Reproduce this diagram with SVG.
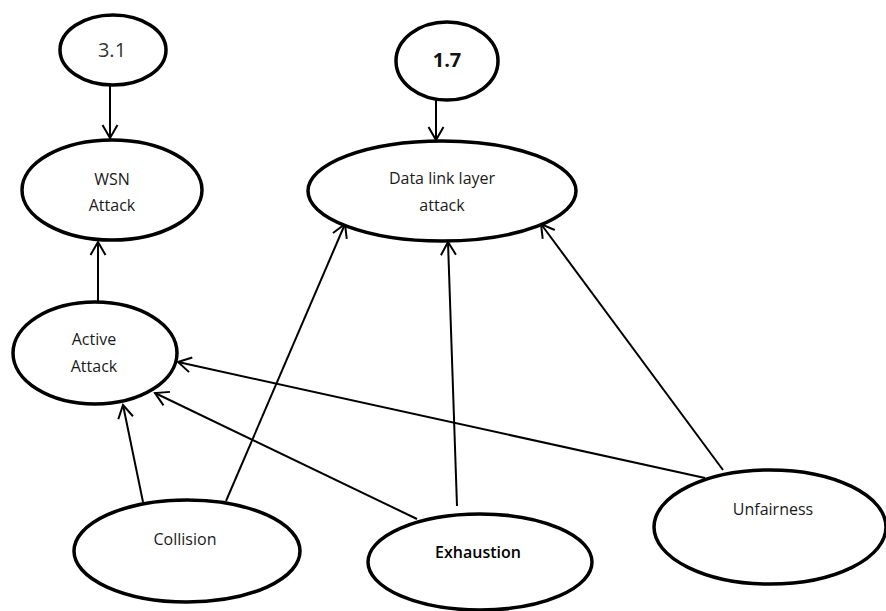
<svg xmlns="http://www.w3.org/2000/svg" width="886" height="611" viewBox="0 0 886 611">
<style>
.node ellipse{fill:#fff;stroke:#000;stroke-width:3.5}
.lbl{font-family:"Open Sans","Noto Sans",sans-serif;font-size:16px;fill:#1a1a1a;text-anchor:middle}
.conn line{stroke:#000;stroke-width:2;fill:none}
</style>
<defs>
<marker id="arr" markerUnits="userSpaceOnUse" markerWidth="16" markerHeight="18" viewBox="0 0 16 18" refX="14" refY="9" orient="auto">
<path d="M1,1.5 L14,9 L1,16.5" fill="none" stroke="#000" stroke-width="2"/>
</marker>
</defs>
<rect width="886" height="611" fill="#fff"/>
<g class="conn">
<line x1="110" y1="86" x2="110" y2="138" marker-end="url(#arr)"/>
<line x1="436" y1="100" x2="436" y2="140" marker-end="url(#arr)"/>
<line x1="98" y1="302" x2="98" y2="242" marker-end="url(#arr)"/>
<line x1="143" y1="502" x2="123" y2="405" marker-end="url(#arr)"/>
<line x1="226" y1="501" x2="345" y2="224" marker-end="url(#arr)"/>
<line x1="417" y1="519" x2="155" y2="393" marker-end="url(#arr)"/>
<line x1="457" y1="506" x2="448" y2="242" marker-end="url(#arr)"/>
<line x1="705" y1="478" x2="178" y2="362" marker-end="url(#arr)"/>
<line x1="723" y1="470" x2="541" y2="224" marker-end="url(#arr)"/>
</g>
<g id="n31" class="node"><ellipse cx="113" cy="50" rx="53" ry="35"/><text class="lbl" x="112" y="57" style="font-size:20px;fill:#333">3.1</text></g>
<g id="n17" class="node"><ellipse cx="447" cy="61" rx="51" ry="39"/><text class="lbl" x="447" y="67" style="font-size:20px;font-weight:bold;fill:#111">1.7</text></g>
<g id="wsn" class="node"><ellipse cx="112" cy="190" rx="90" ry="50"/><text class="lbl" x="112" y="185">WSN</text><text class="lbl" x="112" y="211">Attack</text></g>
<g id="dll" class="node"><ellipse cx="442" cy="191" rx="134" ry="50"/><text class="lbl" x="442" y="184">Data link layer</text><text class="lbl" x="442" y="211">attack</text></g>
<g id="active" class="node"><ellipse cx="95" cy="353" rx="82" ry="51"/><text class="lbl" x="94" y="345">Active</text><text class="lbl" x="94" y="372">Attack</text></g>
<g id="collision" class="node"><ellipse cx="187" cy="551" rx="113" ry="51"/><text class="lbl" x="185" y="545">Collision</text></g>
<g id="exhaustion" class="node"><ellipse cx="480" cy="562" rx="112" ry="48"/><text class="lbl" x="478" y="558" style="fill:#000;font-weight:600">Exhaustion</text></g>
<g id="unfairness" class="node"><ellipse cx="770" cy="527" rx="116" ry="57"/><text class="lbl" x="773" y="515">Unfairness</text></g>
</svg>
